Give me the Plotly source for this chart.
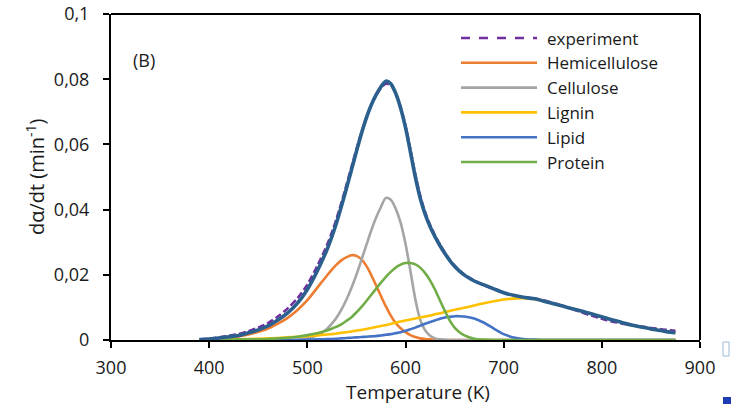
import plotly.graph_objects as go

# Temperature grid (K)
T = [390, 400, 410, 420, 430, 440, 450, 460, 470, 480, 490, 500, 510,
     520, 525, 530, 535, 540, 545, 550, 555, 560, 565, 570, 575, 580, 585,
     590, 595, 600, 605, 610, 615, 620, 625, 630, 635, 640, 645, 650, 655, 660,
     670, 680, 690, 700, 710, 720, 730, 740, 750, 760, 770, 780, 790, 800,
     810, 820, 830, 840, 850, 860, 870, 875]

experiment = [0.0002, 0.0004, 0.0008, 0.0013, 0.0018, 0.0027, 0.0038, 0.0052, 0.0072, 0.0097, 0.0128, 0.0170, 0.0226,
              0.0291, 0.0330, 0.0374, 0.0424, 0.0477, 0.0531, 0.0585, 0.0636, 0.0682, 0.0720, 0.0750, 0.0773, 0.0786, 0.0782,
              0.0756, 0.0714, 0.0656, 0.0584, 0.0508, 0.0442, 0.0392, 0.0353, 0.0321, 0.0293, 0.0268, 0.0246, 0.0228, 0.0213, 0.0201,
              0.0182, 0.0168, 0.0156, 0.0145, 0.0137, 0.0131, 0.0128, 0.0122, 0.0114, 0.0105, 0.0095, 0.0084, 0.0074, 0.0065,
              0.0057, 0.0051, 0.0046, 0.0041, 0.0037, 0.0033, 0.0030, 0.0028]

hemicellulose = [0.0001, 0.0002, 0.0004, 0.0007, 0.0011, 0.0017, 0.0025, 0.0035, 0.0050, 0.0068, 0.0092, 0.0122, 0.0160,
                 0.0198, 0.0216, 0.0232, 0.0245, 0.0254, 0.0260, 0.0258, 0.0248, 0.0228, 0.0200, 0.0168, 0.0135, 0.0103, 0.0075,
                 0.0052, 0.0036, 0.0024, 0.0015, 0.0009, 0.0005, 0.0003, 0.0002, 0.0001, 0, 0, 0, 0, 0, 0,
                 0, 0, 0, 0, 0, 0, 0, 0, 0, 0, 0, 0, 0, 0,
                 0, 0, 0, 0, 0, 0, 0, 0]

cellulose = [0, 0, 0, 0, 0, 0, 0, 0, 0, 0, 0.0001, 0.0005, 0.0014,
             0.0034, 0.0050, 0.0070, 0.0095, 0.0125, 0.0160, 0.0200, 0.0245, 0.0290, 0.0335, 0.0375, 0.0408, 0.0436, 0.0430,
             0.0403, 0.0360, 0.0295, 0.0212, 0.0125, 0.0062, 0.0030, 0.0013, 0.0005, 0.0002, 0.0001, 0, 0, 0, 0,
             0, 0, 0, 0, 0, 0, 0, 0, 0, 0, 0, 0, 0, 0,
             0, 0, 0, 0, 0, 0, 0, 0]

lignin = [0, 0.0001, 0.0001, 0.0002, 0.0002, 0.0003, 0.0004, 0.0005, 0.0006, 0.0008, 0.0010, 0.0012, 0.0014,
          0.0017, 0.0018, 0.0020, 0.0022, 0.0024, 0.0026, 0.0029, 0.0031, 0.0034, 0.0037, 0.0040, 0.0043, 0.0046, 0.0049,
          0.0053, 0.0057, 0.0060, 0.0063, 0.0066, 0.0069, 0.0072, 0.0075, 0.0079, 0.0082, 0.0086, 0.0089, 0.0093, 0.0096, 0.0099,
          0.0106, 0.0113, 0.0119, 0.0124, 0.0127, 0.0128, 0.0126, 0.0120, 0.0112, 0.0104, 0.0096, 0.0088, 0.0080, 0.0071,
          0.0062, 0.0054, 0.0046, 0.0040, 0.0034, 0.0029, 0.0024, 0.0022]

lipid = [0, 0, 0, 0, 0, 0, 0, 0, 0, 0, 0, 0.0001, 0.0002,
         0.0003, 0.0003, 0.0004, 0.0005, 0.0006, 0.0007, 0.0008, 0.0009, 0.0010, 0.0011, 0.0012, 0.0014, 0.0016, 0.0018,
         0.0021, 0.0024, 0.0028, 0.0033, 0.0038, 0.0044, 0.0050, 0.0055, 0.0060, 0.0065, 0.0069, 0.0071, 0.0073, 0.0073, 0.0072,
         0.0066, 0.0053, 0.0035, 0.0018, 0.0008, 0.0003, 0.0001, 0, 0, 0, 0, 0, 0, 0,
         0, 0, 0, 0, 0, 0, 0, 0]

protein = [0, 0, 0.0001, 0.0001, 0.0001, 0.0002, 0.0002, 0.0003, 0.0005, 0.0007, 0.0010, 0.0015, 0.0021,
           0.0029, 0.0035, 0.0041, 0.0049, 0.0059, 0.0070, 0.0085, 0.0101, 0.0119, 0.0138, 0.0157, 0.0176, 0.0194, 0.0209,
           0.0222, 0.0231, 0.0236, 0.0236, 0.0232, 0.0222, 0.0205, 0.0183, 0.0155, 0.0122, 0.0090, 0.0060, 0.0038, 0.0024, 0.0014,
           0.0004, 0.0001, 0, 0, 0, 0, 0, 0, 0, 0, 0, 0, 0, 0,
           0, 0, 0, 0, 0, 0, 0, 0]

total_fit = [0.0001, 0.0003, 0.0006, 0.0010, 0.0014, 0.0022, 0.0031, 0.0043, 0.0061, 0.0083, 0.0113, 0.0155, 0.0211,
             0.0277, 0.0317, 0.0362, 0.0413, 0.0467, 0.0522, 0.0578, 0.0632, 0.0680, 0.0720, 0.0752, 0.0777, 0.0794, 0.0786,
             0.0757, 0.0712, 0.0652, 0.0577, 0.0500, 0.0435, 0.0386, 0.0348, 0.0317, 0.0290, 0.0266, 0.0244, 0.0226, 0.0211, 0.0199,
             0.0181, 0.0169, 0.0157, 0.0145, 0.0137, 0.0131, 0.0127, 0.0120, 0.0112, 0.0104, 0.0096, 0.0088, 0.0080, 0.0071,
             0.0062, 0.0054, 0.0046, 0.0040, 0.0034, 0.0029, 0.0024, 0.0022]

x_tickvals = [300, 400, 500, 600, 700, 800, 900]
y_tickvals = [0, 0.02, 0.04, 0.06, 0.08, 0.1]
y_ticktext = ["0", "0,02", "0,04", "0,06", "0,08", "0,1"]

series_names = ["experiment", "Hemicellulose", "Cellulose", "Lignin", "Lipid", "Protein"]
series_data = [experiment, hemicellulose, cellulose, lignin, lipid, protein]
series_colors = ["#7030A0", "#ED7D31", "#A5A5A5", "#FFC000", "#4472C4", "#70AD47"]
series_dash = ["7px,3px", "solid", "solid", "solid", "solid", "solid"]
total_color = "#2A5F8E"

for arr in series_data + [total_fit]:
    assert len(arr) == len(T)

FONT = "Open Sans"
TXT = "#1a1a1a"
fig = go.Figure()

for name, ys, col, dash in zip(series_names, series_data, series_colors, series_dash):
    fig.add_trace(go.Scatter(x=T, y=ys, name=name, mode="lines",
                             line=dict(color=col, width=2.6, dash=dash, shape="spline", smoothing=0.8),
                             showlegend=False))

fig.add_trace(go.Scatter(x=T, y=total_fit, name="fit", mode="lines",
                         line=dict(color=total_color, width=3.6, shape="spline", smoothing=0.8),
                         showlegend=False))

W, H = 731, 404
L, R, TOP, B = 111, 31, 14, 64
pw, ph = W - L - R, H - TOP - B

def px2paper_x(px):
    return (px - L) / pw

def px2paper_y(py):
    return (H - B - py) / ph

shapes = []
annotations = []

# plot frame (top and right border)
shapes.append(dict(type="line", xref="paper", yref="paper", x0=0, x1=1, y0=1, y1=1,
                   line=dict(color="black", width=2), layer="below"))
shapes.append(dict(type="line", xref="paper", yref="paper", x0=1, x1=1, y0=0, y1=1,
                   line=dict(color="black", width=2), layer="below"))

# Custom legend (long line samples as in the original)
leg_y0, leg_dy = 38, 24.8
for i, (name, col, dash) in enumerate(zip(series_names, series_colors, series_dash)):
    yy = px2paper_y(leg_y0 + i * leg_dy)
    shapes.append(dict(type="line", xref="paper", yref="paper",
                       x0=px2paper_x(461), x1=px2paper_x(537), y0=yy, y1=yy,
                       line=dict(color=col, width=2.6, dash=("dash" if dash != "solid" else "solid"))))
    annotations.append(dict(xref="paper", yref="paper", x=px2paper_x(545), y=yy,
                            text=name, showarrow=False, xanchor="left", yanchor="middle",
                            font=dict(family=FONT, size=17, color=TXT)))

annotations.append(dict(xref="paper", yref="paper", x=px2paper_x(131), y=px2paper_y(60),
                        text="(B)", showarrow=False, xanchor="left", yanchor="middle",
                        font=dict(family=FONT, size=18, color=TXT)))
annotations.append(dict(xref="paper", yref="paper", x=px2paper_x(418), y=px2paper_y(392),
                        text="Temperature (K)", showarrow=False, xanchor="center", yanchor="middle",
                        font=dict(family=FONT, size=19, color=TXT)))
annotations.append(dict(xref="paper", yref="paper", x=px2paper_x(35), y=px2paper_y(177),
                        text="dα/dt (min<sup>-1</sup>)", showarrow=False, textangle=-90,
                        xanchor="center", yanchor="middle",
                        font=dict(family=FONT, size=20, color=TXT)))

# small screenshot artifacts at the right edge
shapes.append(dict(type="rect", xref="paper", yref="paper",
                   x0=px2paper_x(723), x1=px2paper_x(729), y0=px2paper_y(356), y1=px2paper_y(342),
                   line=dict(color="#9DB8D8", width=1), fillcolor="rgba(0,0,0,0)"))
shapes.append(dict(type="rect", xref="paper", yref="paper",
                   x0=px2paper_x(723), x1=px2paper_x(731), y0=px2paper_y(404), y1=px2paper_y(397),
                   line=dict(width=0), fillcolor="#1F3BB3"))

fig.update_layout(
    width=W, height=H,
    margin=dict(l=L, r=R, t=TOP, b=B, pad=0, autoexpand=False),
    paper_bgcolor="white", plot_bgcolor="white",
    font=dict(family=FONT, size=18, color=TXT),
    shapes=shapes, annotations=annotations,
    showlegend=False,
    xaxis=dict(range=[300, 900], tickvals=x_tickvals, ticks="outside", ticklen=6, tickwidth=2,
               tickcolor="black", showline=True, linecolor="black", linewidth=2, mirror=False,
               showgrid=False, zeroline=False, layer="below traces", automargin=False,
               tickfont=dict(family=FONT, size=18, color=TXT), ticklabelstandoff=4),
    yaxis=dict(range=[0, 0.1], tickvals=y_tickvals, ticktext=y_ticktext, ticks="outside", ticklen=6,
               tickwidth=2, tickcolor="black", showline=True, linecolor="black", linewidth=2, mirror=False,
               showgrid=False, zeroline=False, layer="below traces", automargin=False,
               tickfont=dict(family=FONT, size=18, color=TXT), ticklabelstandoff=10),
)

fig.write_html("out.html")
